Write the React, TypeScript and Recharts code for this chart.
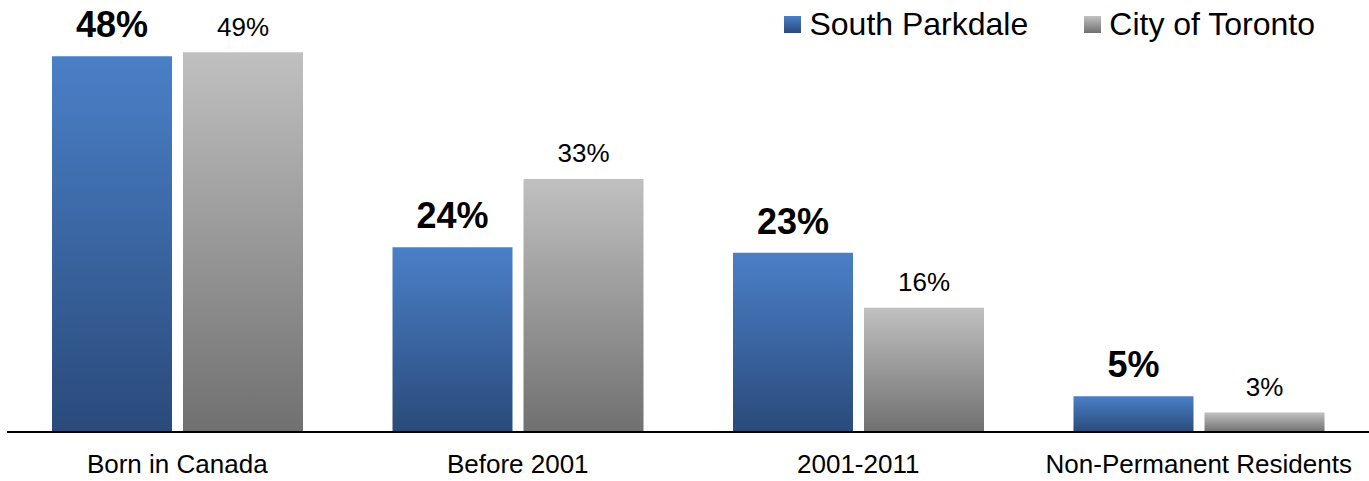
import React from 'react';
import { BarChart, Bar, XAxis, YAxis, Legend, LabelList } from 'recharts';

const categories = ['Born in Canada', 'Before 2001', '2001-2011', 'Non-Permanent Residents'];
const southParkdale = [48.4, 23.8, 23.1, 4.6];
const cityOfToronto = [48.9, 32.6, 16.0, 2.5];
const seriesNames = ['South Parkdale', 'City of Toronto'];

const font = '"Liberation Sans", Arial, sans-serif';

const data = categories.map((c, i) => ({
	name: c,
	parkdale: southParkdale[i],
	toronto: cityOfToronto[i],
}));

const pct = (v: any) => Math.round(Number(v)) + '%';

function LegendBox() {
	const items = [
		{ label: seriesNames[0], bg: 'linear-gradient(#4a80c8, #2a4a7a)' },
		{ label: seriesNames[1], bg: 'linear-gradient(#c2c2c2, #6f6f6f)' },
	];
	return (
		<div style={{ display: 'flex', justifyContent: 'flex-end', alignItems: 'center', paddingRight: 54, height: 32, fontFamily: font, fontSize: 32, lineHeight: '32px', color: '#000' }}>
			{items.map((it, i) => (
				<div key={it.label} style={{ display: 'flex', alignItems: 'center', marginLeft: i === 0 ? 0 : 56 }}>
					<span style={{ display: 'inline-block', width: 17, height: 17, background: it.bg, marginRight: 8 }} />
					<span style={{ whiteSpace: 'nowrap' }}>{it.label}</span>
				</div>
			))}
		</div>
	);
}

export default function App() {
	return (
		<div>
			<style>{`body{margin:0;}`}</style>
			<BarChart width={1369} height={481} data={data} margin={{ top: 5, right: 0, left: 7, bottom: 0 }} barSize={120} barGap={11}>
				<defs>
					<linearGradient id="blueGrad" x1="0" y1="0" x2="0" y2="1">
						<stop offset="0%" stopColor="#4a80c8" />
						<stop offset="100%" stopColor="#2a4a7a" />
					</linearGradient>
					<linearGradient id="greyGrad" x1="0" y1="0" x2="0" y2="1">
						<stop offset="0%" stopColor="#c0c0c0" />
						<stop offset="100%" stopColor="#707070" />
					</linearGradient>
				</defs>
				<XAxis
					dataKey="name"
					height={49}
					tickLine={false}
					tickSize={0}
					tickMargin={23}
					axisLine={{ stroke: '#000', strokeWidth: 2 }}
					tick={{ fontSize: 26, fill: '#000', fontFamily: font }}
					interval={0}
				/>
				<YAxis hide domain={[0, 55]} />
				<Legend
					layout="horizontal"
					verticalAlign="middle"
					align="center"
					wrapperStyle={{ top: 8, left: 0, width: 1369 }}
					content={() => <LegendBox />}
				/>
				<Bar dataKey="parkdale" name={seriesNames[0]} fill="url(#blueGrad)" isAnimationActive={false}>
					<LabelList dataKey="parkdale" position="top" offset={19} formatter={pct} style={{ fontSize: 36, fontWeight: 'bold', fill: '#000', fontFamily: font }} />
				</Bar>
				<Bar dataKey="toronto" name={seriesNames[1]} fill="url(#greyGrad)" isAnimationActive={false}>
					<LabelList dataKey="toronto" position="top" offset={16.5} formatter={pct} style={{ fontSize: 26, fill: '#000', fontFamily: font }} />
				</Bar>
			</BarChart>
		</div>
	);
}
